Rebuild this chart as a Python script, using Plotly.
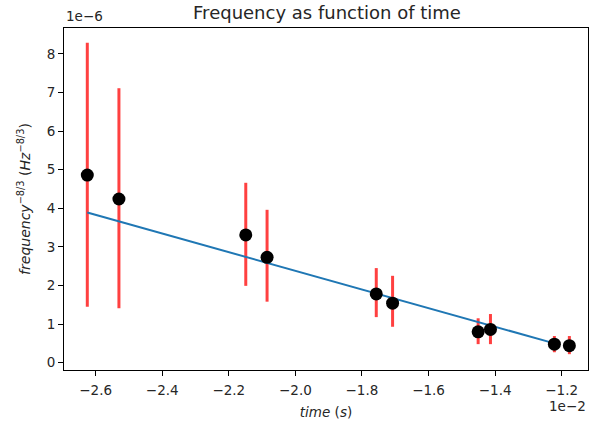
import plotly.graph_objects as go

# data (x in units of 1e-2 s, y in units of 1e-6 Hz^-8/3)
time_vals = [-2.625, -2.530, -2.149, -2.085, -1.757, -1.708, -1.451, -1.414, -1.222, -1.177]
freq_vals = [4.86, 4.24, 3.31, 2.73, 1.78, 1.54, 0.80, 0.86, 0.48, 0.44]
err_plus = [3.43, 2.87, 1.35, 1.23, 0.67, 0.71, 0.35, 0.40, 0.21, 0.25]
err_minus = [3.41, 2.83, 1.32, 1.15, 0.60, 0.61, 0.32, 0.38, 0.21, 0.22]
fit_x = [-2.625, -1.222]
fit_y = [3.89, 0.50]

x_ticks = [-2.6, -2.4, -2.2, -2.0, -1.8, -1.6, -1.4, -1.2]
x_ticktext = ["\u22122.6", "\u22122.4", "\u22122.2", "\u22122.0", "\u22121.8", "\u22121.6", "\u22121.4", "\u22121.2"]
y_ticks = [0, 1, 2, 3, 4, 5, 6, 7, 8]

font_family = "DejaVu Sans"
text_color = "#262626"

fig = go.Figure()

fig.add_trace(go.Scatter(
    x=time_vals, y=freq_vals, mode="markers",
    marker=dict(color="rgba(0,0,0,0)", size=1),
    error_y=dict(type="data", symmetric=False, array=err_plus, arrayminus=err_minus,
                 color="rgba(255,0,0,0.75)", thickness=3, width=0),
    showlegend=False, hoverinfo="skip",
))

fig.add_trace(go.Scatter(
    x=fit_x, y=fit_y, mode="lines",
    line=dict(color="#1f77b4", width=2),
    showlegend=False,
))

fig.add_trace(go.Scatter(
    x=time_vals, y=freq_vals, mode="markers",
    marker=dict(color="black", size=13),
    showlegend=False,
))

axis_common = dict(
    showline=True, linecolor="black", linewidth=1, mirror=True,
    ticks="outside", ticklen=5, tickwidth=1, tickcolor="black",
    showgrid=False, zeroline=False,
    tickfont=dict(family=font_family, size=13.5, color=text_color),
)

fig.update_layout(
    width=590, height=427,
    margin=dict(l=64, r=2, t=28, b=57),
    paper_bgcolor="white", plot_bgcolor="white",
    title=dict(text="Frequency as function of time", x=327 / 590, xanchor="center",
               yref="container", y=1 - 13 / 427, yanchor="middle",
               font=dict(family=font_family, size=18, color=text_color)),
    xaxis=dict(range=[-2.695, -1.121], tickvals=x_ticks, ticktext=x_ticktext,
               ticklabelstandoff=3,
               title=dict(text="<i>time</i> (<i>s</i>)", standoff=10,
                          font=dict(family=font_family, size=13.5, color=text_color)),
               **axis_common),
    yaxis=dict(range=[-0.19, 8.67], tickvals=y_ticks,
               title=dict(text="<i>frequency</i><sup>\u22128/3</sup> (<i>Hz</i><sup>\u22128/3</sup>)",
                          standoff=12,
                          font=dict(family=font_family, size=14, color=text_color)),
               **axis_common),
    annotations=[
        dict(text="1e\u22126", xref="paper", yref="paper", x=0, y=1, xanchor="left",
             yanchor="bottom", yshift=2, showarrow=False,
             font=dict(family=font_family, size=13.5, color=text_color)),
        dict(text="1e\u22122", xref="paper", yref="paper", x=1, y=0, xanchor="right",
             yanchor="top", yshift=-26, showarrow=False,
             font=dict(family=font_family, size=13.5, color=text_color)),
    ],
)

fig.write_html("out.html")
